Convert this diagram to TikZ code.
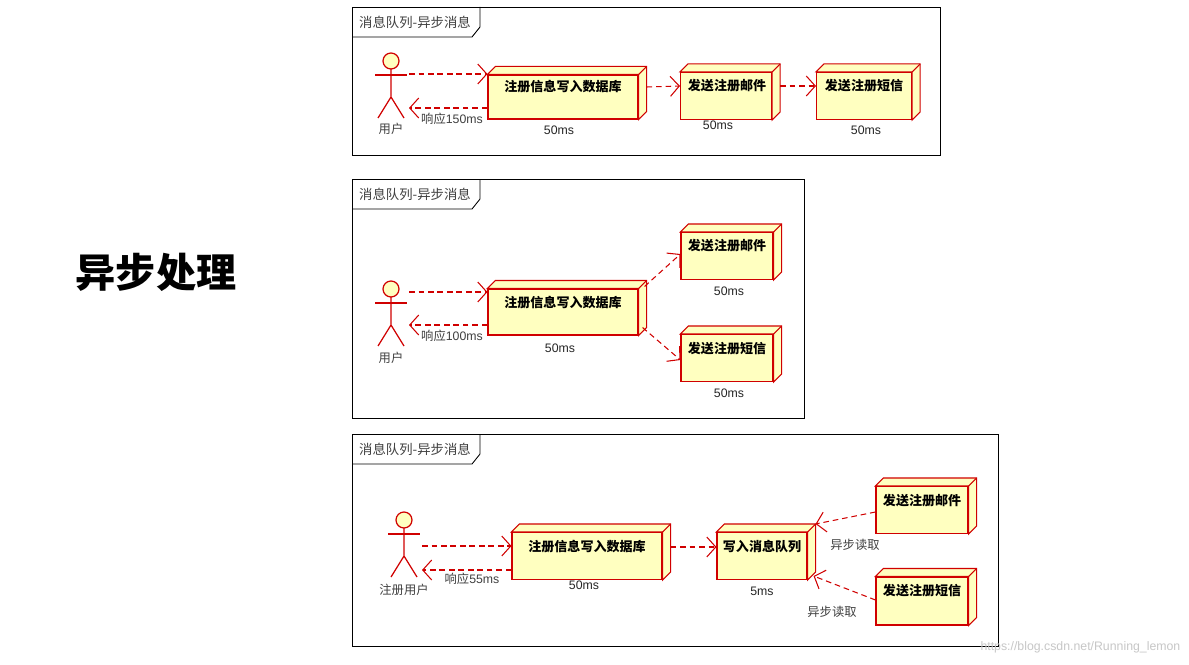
\documentclass[tikz,border=0pt]{standalone}
\usepackage{fontspec}
\setmainfont{Liberation Sans}
\newfontfamily\cjk{Noto Sans CJK SC}
\usetikzlibrary{arrows.meta,calc}
\definecolor{bx}{HTML}{FFFFC0}
\definecolor{rd}{HTML}{D00000}
\tikzset{x=0.01cm,y=-0.01cm,
 frame/.style={draw=black,line width=0.25pt},
 tabtxt/.style={font=\cjk\fontsize{3.8}{4.5}\selectfont,text=black!75},
 box/.style={draw=rd,fill=bx,line width=0.3pt,inner sep=0pt},
 boxtxt/.style={font=\cjk\bfseries\fontsize{3.7}{4.5}\selectfont,inner sep=0pt},
 lbl/.style={font=\fontsize{3.5}{4}\selectfont,text=black!85,inner sep=0pt},
 clbl/.style={font=\cjk\fontsize{3.5}{4}\selectfont,text=black!75,inner sep=0pt},
 dep/.style={draw=rd,dashed,dash pattern=on 1.6pt off 1.1pt,line width=0.3pt,-{Straight Barb[length=0.9mm,width=2mm]}},
 act/.style={draw=rd,line width=0.35pt},
}
\newcommand\cubebox[5]{% name, cx, cy, w, h
 \node[box,minimum width=#4*0.01cm,minimum height=#5*0.01cm] (#1) at (#2,#3) {};
 \draw[box] (#1.north west) -- ++(8,-8) -- ($(#1.north east)+(8,-8)$) -- ($(#1.south east)+(8,-8)$) -- (#1.south east) -- (#1.north east) -- cycle;
 \draw[draw=rd,line width=0.3pt] (#1.north east) -- ++(8,-8);}
\newcommand\actor[3]{% name, cx, headcy
 \draw[act,fill=bx] (#2,#3) circle (8);
 \draw[act] (#2,#3+8) -- (#2,#3+36) coordinate (#1legs) -- (#2-13,#3+57) (#2,#3+36) -- (#2+13,#3+57);
 \draw[act] (#2-16,#3+14) -- (#2+16,#3+14);
 \coordinate (#1) at (#2,#3+14);}
\newcommand\frametab[4]{% x1 y1 x2 y2
 \draw[frame] (#1,#2) rectangle (#3,#4);
 \draw[frame] (#1,#2+30) -- (#1+120,#2+30) -- (#1+128,#2+20) -- (#1+128,#2);
 \node[tabtxt] at (#1+63,#2+15) {消息队列-异步消息};}
\begin{document}
\begin{tikzpicture}
\useasboundingbox (0,0) rectangle (1189,664);
\fill[white] (0,0) rectangle (1189,664);
\node[font=\cjk\bfseries\fontsize{11.4}{12}\selectfont] (title) at (156,272) {异步处理};
% ---------- frame 1
\frametab{352}{7}{940}{155}
\actor{u1}{391}{61}
\node[clbl] (u1l) at (391,129) {用户};
\cubebox{a1}{563}{97}{150}{44}
\node[boxtxt] (a1t) at (563,87) {注册信息写入数据库};
\cubebox{b1}{726}{96}{91}{47}
\node[boxtxt] (b1t) at (727,86) {发送注册邮件};
\cubebox{c1}{864}{96}{95}{47}
\node[boxtxt] (c1t) at (864,86) {发送注册短信};
\coordinate (u1a) at (409,74); \coordinate (u1b) at (409,108);
\draw[dep] (u1a) -- (a1.west |- u1a);
\draw[dep] (a1.west |- u1b) -- (u1b);
\node[clbl] (r1) at (452,119) {响应\fontspec{Liberation Sans}150ms};
\node[lbl] (a1l) at (559,130) {50ms};
\draw[dep] ($(a1.east)+(8,-10)$) -- ($(b1.west)+(0,-10)$);
\draw[dep] ($(b1.east)+(8,-10)$) -- ($(c1.west)+(0,-10)$);
\node[lbl] (b1l) at (718,125) {50ms};
\node[lbl] (c1l) at (866,130) {50ms};
% ---------- frame 2
\frametab{352}{179}{804}{418}
\actor{u2}{391}{289}
\node[clbl] (u2l) at (391,358) {用户};
\cubebox{a2}{563}{312}{150}{46}
\node[boxtxt] (a2t) at (563,303) {注册信息写入数据库};
\coordinate (u2a) at (409,292); \coordinate (u2b) at (409,325);
\draw[dep] (u2a) -- (a2.west |- u2a);
\draw[dep] (a2.west |- u2b) -- (u2b);
\node[clbl] (r2) at (452,336) {响应\fontspec{Liberation Sans}100ms};
\node[lbl] (a2l) at (560,348) {50ms};
\cubebox{b2}{727}{256}{92}{47}
\node[boxtxt] (b2t) at (727,246) {发送注册邮件};
\cubebox{c2}{727}{358}{92}{47}
\node[boxtxt] (c2t) at (727,349) {发送注册短信};
\node[lbl] (b2l) at (729,291) {50ms};
\node[lbl] (c2l) at (729,393) {50ms};
\draw[dep] ($(a2.north east)+(6,-2)$) -- ($(b2.west)+(0,-2)$);
\draw[dep] ($(a2.south east)+(4,-8)$) -- ($(c2.west)+(0,2)$);
% ---------- frame 3
\frametab{352}{434}{998}{646}
\actor{u3}{404}{520}
\node[clbl] (u3l) at (404,590) {注册用户};
\cubebox{a3}{587}{556}{150}{47}
\node[boxtxt] (a3t) at (587,547) {注册信息写入数据库};
\coordinate (u3a) at (422,546); \coordinate (u3b) at (422,570);
\draw[dep] (u3a) -- (a3.west |- u3a);
\draw[dep] (a3.west |- u3b) -- (u3b);
\node[clbl] (r3) at (472,579) {响应\fontspec{Liberation Sans}55ms};
\node[lbl] (a3l) at (584,585) {50ms};
\cubebox{q3}{762}{556}{90}{47}
\node[boxtxt] (q3t) at (762,547) {写入消息队列};
\draw[dep] ($(a3.east)+(8,-9)$) -- ($(q3.west)+(0,-9)$);
\node[lbl] (q3l) at (762,591) {5ms};
\cubebox{b3}{922}{510}{92}{47}
\node[boxtxt] (b3t) at (922,501) {发送注册邮件};
\cubebox{c3}{922}{601}{92}{48}
\node[boxtxt] (c3t) at (922,591) {发送注册短信};
\draw[dep] ($(b3.west)+(0,2)$) -- ($(q3.north east)+(8,-8)$);
\draw[dep] ($(c3.west)+(0,-1)$) -- ($(q3.south east)+(6,-4)$);
\node[clbl] (rd1) at (855,545) {异步读取};
\node[clbl] (rd2) at (832,612) {异步读取};
\node[font=\fontsize{3.5}{4}\selectfont,text=black!22,anchor=east,inner sep=0pt] (wm) at (1181,647) {https://blog.csdn.net/Running\_lemon};
\end{tikzpicture}
\end{document}
